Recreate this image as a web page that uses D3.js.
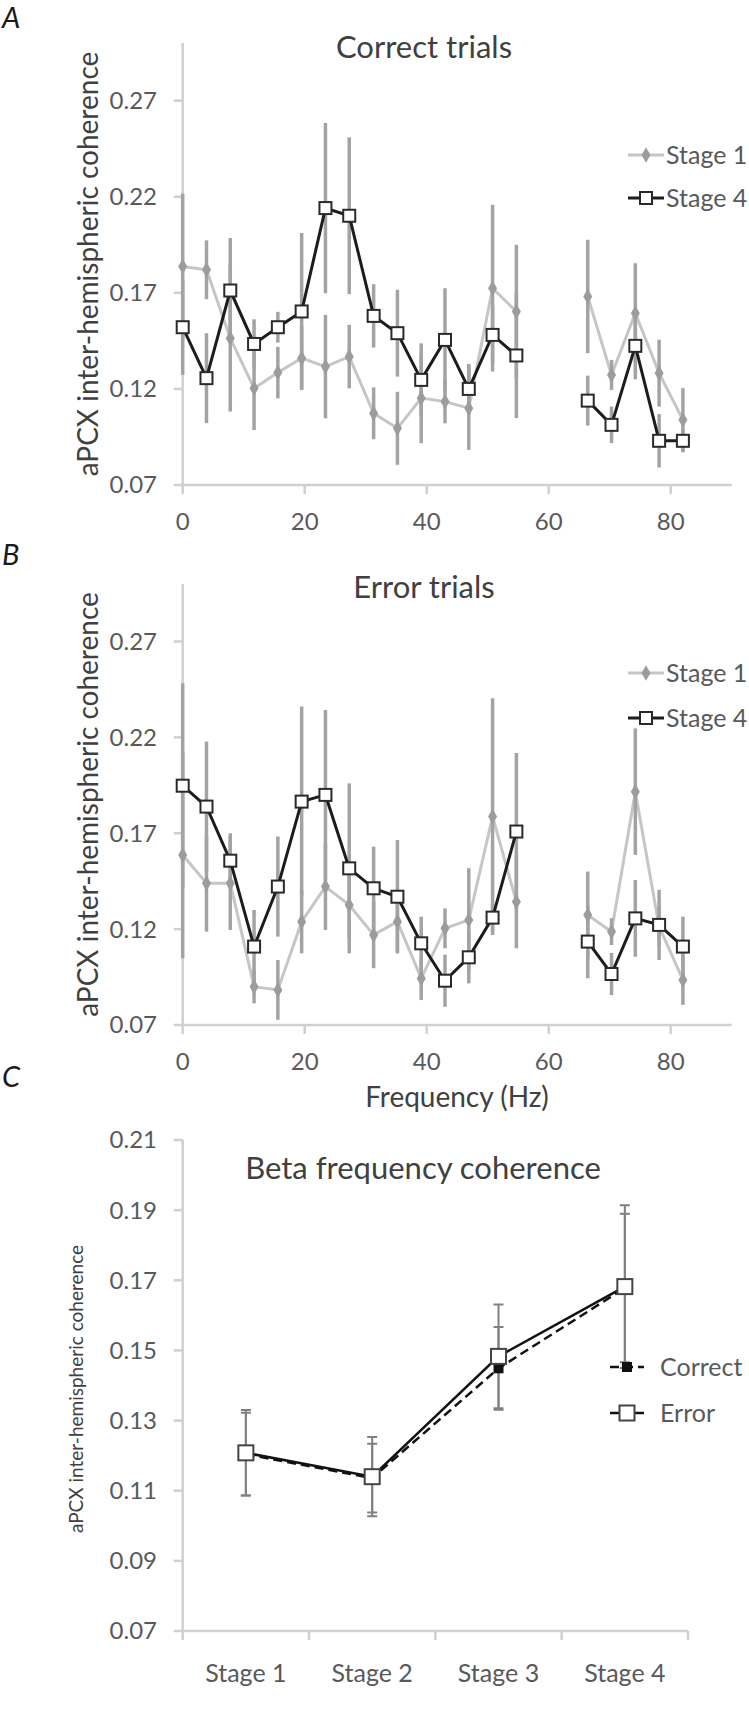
<!DOCTYPE html>
<html><head><meta charset="utf-8">
<script src="https://cdn.jsdelivr.net/npm/d3@7"></script>
<style>
html,body{margin:0;padding:0;background:#fff;}
svg{display:block;font-family:Lato,"Open Sans",sans-serif;}
</style></head>
<body>
<svg id="chart" width="749" height="1715"></svg>
<script>
// ---------- DATA ----------
const freqHz = [0, 3.9, 7.8, 11.7, 15.6, 19.5, 23.4, 27.3, 31.3, 35.2, 39.1, 43.0, 46.9, 50.8, 54.7, 58.6, 62.5, 66.4, 70.3, 74.2, 78.1, 82.0];

const correctStage1    = [0.1837, 0.182, 0.1464, 0.1203, 0.1285, 0.136, 0.1316, 0.1368, 0.1073, 0.0995, 0.1152, 0.1134, 0.110, 0.1724, 0.1603, null, null, 0.1681, 0.1273, 0.1594, 0.1282, 0.1039];
const correctStage1Err = [0.038, 0.0153, 0.0382, 0.0217, 0.0134, 0.0165, 0.0269, 0.0165, 0.0135, 0.019, 0.0234, 0.0113, 0.0217, 0.0434, 0.0347, null, null, 0.0295, 0.0078, 0.026, 0.0174, 0.0165];
const correctStage4    = [0.1521, 0.1256, 0.1712, 0.1434, 0.1521, 0.1603, 0.2141, 0.2101, 0.158, 0.149, 0.1247, 0.1455, 0.120, 0.1481, 0.1374, null, null, 0.1139, 0.1013, 0.1424, 0.093, 0.093];
const correctStage4Err = [0.0248, 0.0234, 0.0273, 0.0128, 0.008, 0.0408, 0.0443, 0.0408, 0.0165, 0.0226, 0.019, 0.0269, 0.013, 0.015, 0.0326, null, null, 0.013, 0.0095, 0.0174, 0.0139, 0.006];

const errorStage1    = [0.1587, 0.1439, 0.1439, 0.09, 0.0883, 0.1239, 0.1422, 0.1326, 0.117, 0.1239, 0.0943, 0.1204, 0.1248, 0.1787, 0.1343, null, null, 0.1274, 0.1187, 0.1917, 0.1213, 0.0935];
const errorStage1Err = [0.0539, 0.0252, 0.0243, 0.0087, 0.0156, 0.0165, 0.0226, 0.0174, 0.0174, 0.0156, 0.0113, 0.0104, 0.027, 0.0617, 0.0243, null, null, 0.0226, 0.007, 0.033, 0.0104, 0.013];
const errorStage4    = [0.1948, 0.1839, 0.1557, 0.1109, 0.1422, 0.1865, 0.19, 0.1517, 0.1413, 0.1369, 0.1126, 0.0931, 0.1053, 0.126, 0.1709, null, null, 0.1135, 0.0966, 0.1256, 0.1222, 0.1109];
const errorStage4Err = [0.0534, 0.0339, 0.0143, 0.0191, 0.0261, 0.0496, 0.0443, 0.0443, 0.0217, 0.0296, 0.0139, 0.0136, 0.0136, 0.007, 0.0409, null, null, 0.0191, 0.011, 0.02, 0.0183, 0.0156];

const freqTicks = [0, 20, 40, 60, 80];
const freqYTicks = [0.07, 0.12, 0.17, 0.22, 0.27];

const stages = ["Stage 1", "Stage 2", "Stage 3", "Stage 4"];
const betaCorrect    = [0.1204, 0.1136, 0.1449, 0.1678];
const betaCorrectErr = [0.0118, 0.0098, 0.0118, 0.0212];
const betaError      = [0.1208, 0.1140, 0.1483, 0.1682];
const betaErrorErr   = [0.0122, 0.0113, 0.0148, 0.0232];
const betaYTicks = [0.07, 0.09, 0.11, 0.13, 0.15, 0.17, 0.19, 0.21];

// ---------- STYLE ----------
const AXIS_COL = "#d0d0d0", TICK_TXT = "#595959", TITLE_TXT = "#404040";
const S1_LINE = "#c6c6c6", S1_MARK = "#9c9c9c", BAR_COL = "#a3a3a3";
const S4_LINE = "#1c1c1c";

const svg = d3.select("#chart");
const fmt = d3.format(".2f");

const xFreq = d3.scaleLinear().domain([0, 90]).range([182.7, 731.7]);

function freqPanel(top, bottom, title, titleY, s1, s1e, s4, s4e, legY) {
  const y = d3.scaleLinear().domain([0.07, 0.30]).range([bottom, top]);
  const g = svg.append("g");

  g.append("line").attr("x1", xFreq(0)).attr("x2", xFreq(0)).attr("y1", y(0.30)).attr("y2", y(0.07))
    .attr("stroke", AXIS_COL).attr("stroke-width", 2.5);
  g.append("line").attr("x1", xFreq(0)).attr("x2", xFreq(90)).attr("y1", y(0.07)).attr("y2", y(0.07))
    .attr("stroke", AXIS_COL).attr("stroke-width", 2.5);
  g.selectAll(".yt").data(freqYTicks).join("line")
    .attr("x1", xFreq(0) - 9).attr("x2", xFreq(0)).attr("y1", d => y(d)).attr("y2", d => y(d))
    .attr("stroke", AXIS_COL).attr("stroke-width", 2.5);
  g.selectAll(".ytl").data(freqYTicks).join("text")
    .attr("x", 157).attr("y", d => y(d)).attr("dy", "0.35em").attr("text-anchor", "end")
    .attr("font-size", 24).attr("fill", TICK_TXT).text(d => fmt(d));
  g.selectAll(".xt").data(freqTicks).join("line")
    .attr("x1", d => xFreq(d)).attr("x2", d => xFreq(d)).attr("y1", y(0.07)).attr("y2", y(0.07) + 9)
    .attr("stroke", AXIS_COL).attr("stroke-width", 2.5);
  g.selectAll(".xtl").data(freqTicks).join("text")
    .attr("x", d => xFreq(d)).attr("y", y(0.07) + 37).attr("dy", "0.35em").attr("text-anchor", "middle")
    .attr("font-size", 24).attr("fill", TICK_TXT).text(d => d);

  g.append("text").attr("transform", `translate(88,${(top + bottom) / 2}) rotate(-90)`)
    .attr("text-anchor", "middle").attr("dy", "0.35em").attr("font-size", 28).attr("fill", TITLE_TXT)
    .text("aPCX inter-hemispheric coherence");
  g.append("text").attr("x", 424).attr("y", titleY).attr("dy", "0.35em").attr("text-anchor", "middle")
    .attr("font-size", 31).attr("fill", TITLE_TXT).text(title);

  const pts = (vals, errs) => freqHz.map((f, i) => ({ f, v: vals[i], e: errs[i] })).filter(d => d.v !== null);
  const p1 = pts(s1, s1e), p4 = pts(s4, s4e);
  const line = d3.line().defined(d => d.v !== null).x(d => xFreq(d.f)).y(d => y(d.v));
  const all1 = freqHz.map((f, i) => ({ f, v: s1[i] }));
  const all4 = freqHz.map((f, i) => ({ f, v: s4[i] }));

  g.append("path").attr("d", line(all1)).attr("fill", "none").attr("stroke", S1_LINE).attr("stroke-width", 3);
  g.selectAll(".eb1").data(p1).join("line")
    .attr("x1", d => xFreq(d.f)).attr("x2", d => xFreq(d.f)).attr("y1", d => y(d.v - d.e)).attr("y2", d => y(d.v + d.e))
    .attr("stroke", BAR_COL).attr("stroke-width", 3.5);
  g.selectAll(".eb4").data(p4).join("line")
    .attr("x1", d => xFreq(d.f)).attr("x2", d => xFreq(d.f)).attr("y1", d => y(d.v - d.e)).attr("y2", d => y(d.v + d.e))
    .attr("stroke", BAR_COL).attr("stroke-width", 3.5);
  g.selectAll(".m1").data(p1).join("path")
    .attr("transform", d => `translate(${xFreq(d.f)},${y(d.v)})`)
    .attr("d", d3.symbol(d3.symbolDiamond, 70)).attr("fill", S1_MARK);
  g.append("path").attr("d", line(all4)).attr("fill", "none").attr("stroke", S4_LINE).attr("stroke-width", 3);
  g.selectAll(".m4").data(p4).join("rect")
    .attr("x", d => xFreq(d.f) - 6).attr("y", d => y(d.v) - 6).attr("width", 12).attr("height", 12)
    .attr("fill", "#fff").attr("stroke", "#2a2a2a").attr("stroke-width", 2);

  const lx0 = 628, lx1 = 664;
  g.append("line").attr("x1", lx0).attr("x2", lx1).attr("y1", legY[0]).attr("y2", legY[0]).attr("stroke", S1_LINE).attr("stroke-width", 3);
  g.append("path").attr("transform", `translate(${(lx0 + lx1) / 2},${legY[0]})`).attr("d", d3.symbol(d3.symbolDiamond, 70)).attr("fill", S1_MARK);
  g.append("text").attr("x", 666).attr("y", legY[0]).attr("dy", "0.35em").attr("font-size", 25).attr("fill", TICK_TXT).text("Stage 1");
  g.append("line").attr("x1", lx0).attr("x2", lx1).attr("y1", legY[1]).attr("y2", legY[1]).attr("stroke", S4_LINE).attr("stroke-width", 3);
  g.append("rect").attr("x", (lx0 + lx1) / 2 - 6).attr("y", legY[1] - 6).attr("width", 12).attr("height", 12)
    .attr("fill", "#fff").attr("stroke", "#2a2a2a").attr("stroke-width", 2);
  g.append("text").attr("x", 666).attr("y", legY[1]).attr("dy", "0.35em").attr("font-size", 25).attr("fill", TICK_TXT).text("Stage 4");
}

freqPanel(43, 485, "Correct trials", 47, correctStage1, correctStage1Err, correctStage4, correctStage4Err, [155, 198]);
freqPanel(584, 1025, "Error trials", 587, errorStage1, errorStage1Err, errorStage4, errorStage4Err, [673, 718]);

svg.append("text").attr("x", 457).attr("y", 1097).attr("dy", "0.35em").attr("text-anchor", "middle")
  .attr("font-size", 28).attr("fill", TITLE_TXT).text("Frequency (Hz)");

[["A", 18], ["B", 555], ["C", 1077]].forEach(([t, yy]) => {
  svg.append("text").attr("x", 2).attr("y", yy).attr("dy", "0.35em").attr("font-size", 29)
    .attr("font-style", "italic").attr("fill", "#1a1a1a").text(t);
});

// ---------- PANEL C ----------
(function () {
  const x = d3.scaleBand().domain(stages).range([182.7, 688]);
  const y = d3.scaleLinear().domain([0.07, 0.21]).range([1631, 1140]);
  const g = svg.append("g");
  g.append("line").attr("x1", x.range()[0]).attr("x2", x.range()[0]).attr("y1", y(0.21)).attr("y2", y(0.07))
    .attr("stroke", AXIS_COL).attr("stroke-width", 2.5);
  g.append("line").attr("x1", x.range()[0]).attr("x2", x.range()[1]).attr("y1", y(0.07)).attr("y2", y(0.07))
    .attr("stroke", AXIS_COL).attr("stroke-width", 2.5);
  g.selectAll(".yt").data(betaYTicks).join("line")
    .attr("x1", x.range()[0] - 9).attr("x2", x.range()[0]).attr("y1", d => y(d)).attr("y2", d => y(d))
    .attr("stroke", AXIS_COL).attr("stroke-width", 2.5);
  g.selectAll(".ytl").data(betaYTicks).join("text")
    .attr("x", 157).attr("y", d => y(d)).attr("dy", "0.35em").attr("text-anchor", "end")
    .attr("font-size", 24).attr("fill", TICK_TXT).text(d => fmt(d));
  const bounds = stages.map(s => x(s)).concat([x.range()[1]]);
  g.selectAll(".xt").data(bounds).join("line")
    .attr("x1", d => d).attr("x2", d => d).attr("y1", y(0.07)).attr("y2", y(0.07) + 9)
    .attr("stroke", AXIS_COL).attr("stroke-width", 2.5);
  g.selectAll(".xtl").data(stages).join("text")
    .attr("x", d => x(d) + x.bandwidth() / 2).attr("y", y(0.07) + 42).attr("dy", "0.35em").attr("text-anchor", "middle")
    .attr("font-size", 25).attr("fill", TICK_TXT).text(d => d);

  g.append("text").attr("transform", `translate(76,1389) rotate(-90)`)
    .attr("text-anchor", "middle").attr("dy", "0.35em").attr("font-size", 19).attr("fill", TITLE_TXT)
    .text("aPCX inter-hemispheric coherence");
  g.append("text").attr("x", 423).attr("y", 1168).attr("dy", "0.35em").attr("text-anchor", "middle")
    .attr("font-size", 31).attr("fill", TITLE_TXT).text("Beta frequency coherence");

  const cx = s => x(s) + x.bandwidth() / 2;
  const pc = stages.map((s, i) => ({ s, v: betaCorrect[i], e: betaCorrectErr[i] }));
  const pe = stages.map((s, i) => ({ s, v: betaError[i], e: betaErrorErr[i] }));
  const line = d3.line().x(d => cx(d.s)).y(d => y(d.v));

  [pc, pe].forEach((arr, k) => {
    g.selectAll(".eb" + k).data(arr).join("path")
      .attr("d", d => `M${cx(d.s)},${y(d.v - d.e)}V${y(d.v + d.e)}M${cx(d.s) - 5},${y(d.v - d.e)}H${cx(d.s) + 5}M${cx(d.s) - 5},${y(d.v + d.e)}H${cx(d.s) + 5}`)
      .attr("stroke", "#808080").attr("stroke-width", 2).attr("fill", "none");
  });
  g.append("path").attr("d", line(pc)).attr("fill", "none").attr("stroke", "#111").attr("stroke-width", 2.5).attr("stroke-dasharray", "9,5");
  g.selectAll(".mc").data(pc).join("rect")
    .attr("x", d => cx(d.s) - 5).attr("y", d => y(d.v) - 5).attr("width", 10).attr("height", 10).attr("fill", "#111");
  g.append("path").attr("d", line(pe)).attr("fill", "none").attr("stroke", "#111").attr("stroke-width", 2.5);
  g.selectAll(".me").data(pe).join("rect")
    .attr("x", d => cx(d.s) - 7.5).attr("y", d => y(d.v) - 7.5).attr("width", 15).attr("height", 15)
    .attr("fill", "#fff").attr("stroke", "#444").attr("stroke-width", 2);

  const lx0 = 610, lx1 = 644, ly = [1367, 1413];
  g.append("line").attr("x1", lx0).attr("x2", lx1).attr("y1", ly[0]).attr("y2", ly[0]).attr("stroke", "#111").attr("stroke-width", 2.5).attr("stroke-dasharray", "9,5");
  g.append("rect").attr("x", (lx0 + lx1) / 2 - 5).attr("y", ly[0] - 5).attr("width", 10).attr("height", 10).attr("fill", "#111");
  g.append("text").attr("x", 660).attr("y", ly[0]).attr("dy", "0.35em").attr("font-size", 25).attr("fill", TICK_TXT).text("Correct");
  g.append("line").attr("x1", lx0).attr("x2", lx1).attr("y1", ly[1]).attr("y2", ly[1]).attr("stroke", "#111").attr("stroke-width", 2.5);
  g.append("rect").attr("x", (lx0 + lx1) / 2 - 7.5).attr("y", ly[1] - 7.5).attr("width", 15).attr("height", 15)
    .attr("fill", "#fff").attr("stroke", "#444").attr("stroke-width", 2);
  g.append("text").attr("x", 660).attr("y", ly[1]).attr("dy", "0.35em").attr("font-size", 25).attr("fill", TICK_TXT).text("Error");
})();
</script>
</body></html>
